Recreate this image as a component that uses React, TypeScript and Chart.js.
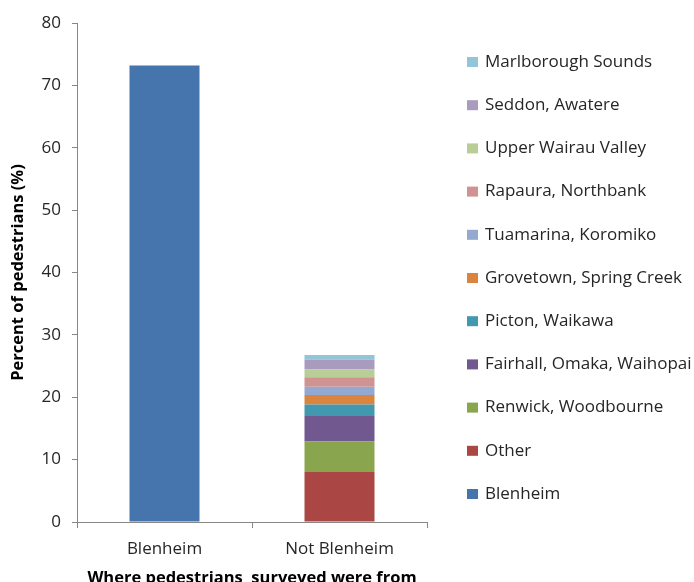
import React, { useEffect, useRef } from "react";
import { Chart, registerables } from "chart.js";

Chart.register(...registerables);

// Categories on the x axis
const categories = ["Blenheim", "Not Blenheim"];

// Share of pedestrians living in Blenheim (first bar)
const blenheimShare = [73.2, null];

// Breakdown of the "Not Blenheim" bar, bottom to top
const originNames = [
  "Other",
  "Renwick, Woodbourne",
  "Fairhall, Omaka, Waihopai",
  "Picton, Waikawa",
  "Grovetown, Spring Creek",
  "Tuamarina, Koromiko",
  "Rapaura, Northbank",
  "Upper Wairau Valley",
  "Seddon, Awatere",
  "Marlborough Sounds",
];
const originShares = [8.0, 4.9, 4.1, 1.85, 1.5, 1.35, 1.5, 1.3, 1.57, 0.7];
const originColors = [
  "#AA4643",
  "#89A54E",
  "#71588F",
  "#4198AF",
  "#DB843D",
  "#93A9CF",
  "#D19392",
  "#B9CD96",
  "#A99BBD",
  "#92C5D8",
];

const yTicks = [0, 10, 20, 30, 40, 50, 60, 70, 80];

const FONT = "'Open Sans', 'DejaVu Sans', sans-serif";
const TEXT = "#262626";
const AXIS = "#878787";

// Vertical legend on the right, listed top to bottom in reverse stacking order
const sideLegend = {
  id: "sideLegend",
  afterDraw(chart: any) {
    const ctx = chart.ctx;
    const items = chart.data.datasets.map((d: any) => ({
      label: d.label,
      color: d.backgroundColor,
    }));
    items.reverse();
    const x0 = 467;
    const y0 = 62;
    const step = 43.2;
    ctx.save();
    ctx.font = `17px ${FONT}`;
    ctx.textBaseline = "middle";
    ctx.textAlign = "left";
    items.forEach((it: any, k: number) => {
      const y = y0 + k * step;
      ctx.fillStyle = it.color;
      ctx.fillRect(x0, y - 5, 11, 10);
      ctx.fillStyle = TEXT;
      ctx.fillText(it.label, x0 + 18, y);
    });
    ctx.restore();
  },
};

export default function App() {
  const canvasRef = useRef<HTMLCanvasElement | null>(null);

  useEffect(() => {
    if (!canvasRef.current) return;
    const datasets: any[] = [
      {
        label: "Blenheim",
        data: blenheimShare,
        backgroundColor: "#4674AC",
        borderWidth: 0,
        barPercentage: 0.4,
        categoryPercentage: 1,
      },
      ...originNames.map((name, i) => ({
        label: name,
        data: [null, originShares[i]],
        backgroundColor: originColors[i],
        borderWidth: 0,
        barPercentage: 0.4,
        categoryPercentage: 1,
      })),
    ];

    const chart = new Chart(canvasRef.current, {
      type: "bar",
      data: { labels: categories, datasets },
      plugins: [sideLegend],
      options: {
        animation: false,
        responsive: false,
        maintainAspectRatio: false,
        layout: { padding: { top: 23, right: 267, left: 0, bottom: 0 } },
        plugins: {
          tooltip: { enabled: false },
          legend: { display: false },
        },
        scales: {
          x: {
            stacked: true,
            offset: true,
            afterFit: (axis: any) => {
              axis.height = 70;
            },
            grid: {
              display: true,
              offset: true,
              drawOnChartArea: false,
              drawTicks: true,
              tickLength: 6,
              color: AXIS,
            },
            border: { color: AXIS, width: 1 },
            ticks: {
              color: TEXT,
              padding: 11,
              font: { family: FONT, size: 17 },
            },
            title: {
              display: true,
              text: "Where pedestrians  surveyed were from",
              color: "#000",
              padding: { top: 0, bottom: 4 },
              font: { family: FONT, size: 16.5, weight: "bold" },
            },
          },
          y: {
            stacked: true,
            min: 0,
            max: 80,
            afterFit: (axis: any) => {
              axis.width = 77;
            },
            afterBuildTicks: (axis: any) => {
              axis.ticks = yTicks.map((v) => ({ value: v }));
            },
            grid: {
              display: true,
              drawOnChartArea: false,
              drawTicks: true,
              tickLength: 5,
              color: AXIS,
            },
            border: { color: AXIS, width: 1 },
            ticks: {
              color: TEXT,
              padding: 11,
              font: { family: FONT, size: 17 },
            },
            title: {
              display: true,
              text: "Percent of pedestrians (%)",
              color: "#000",
              padding: { top: 8, bottom: 0 },
              font: { family: FONT, size: 16.5, weight: "bold" },
            },
          },
        },
      },
    });
    return () => chart.destroy();
  }, []);

  return (
    <div
      style={{
        position: "fixed",
        left: 0,
        top: 0,
        width: 694,
        height: 582,
        overflow: "hidden",
        background: "#fff",
      }}
    >
      <canvas ref={canvasRef} width={694} height={592} style={{ display: "block" }} />
    </div>
  );
}
